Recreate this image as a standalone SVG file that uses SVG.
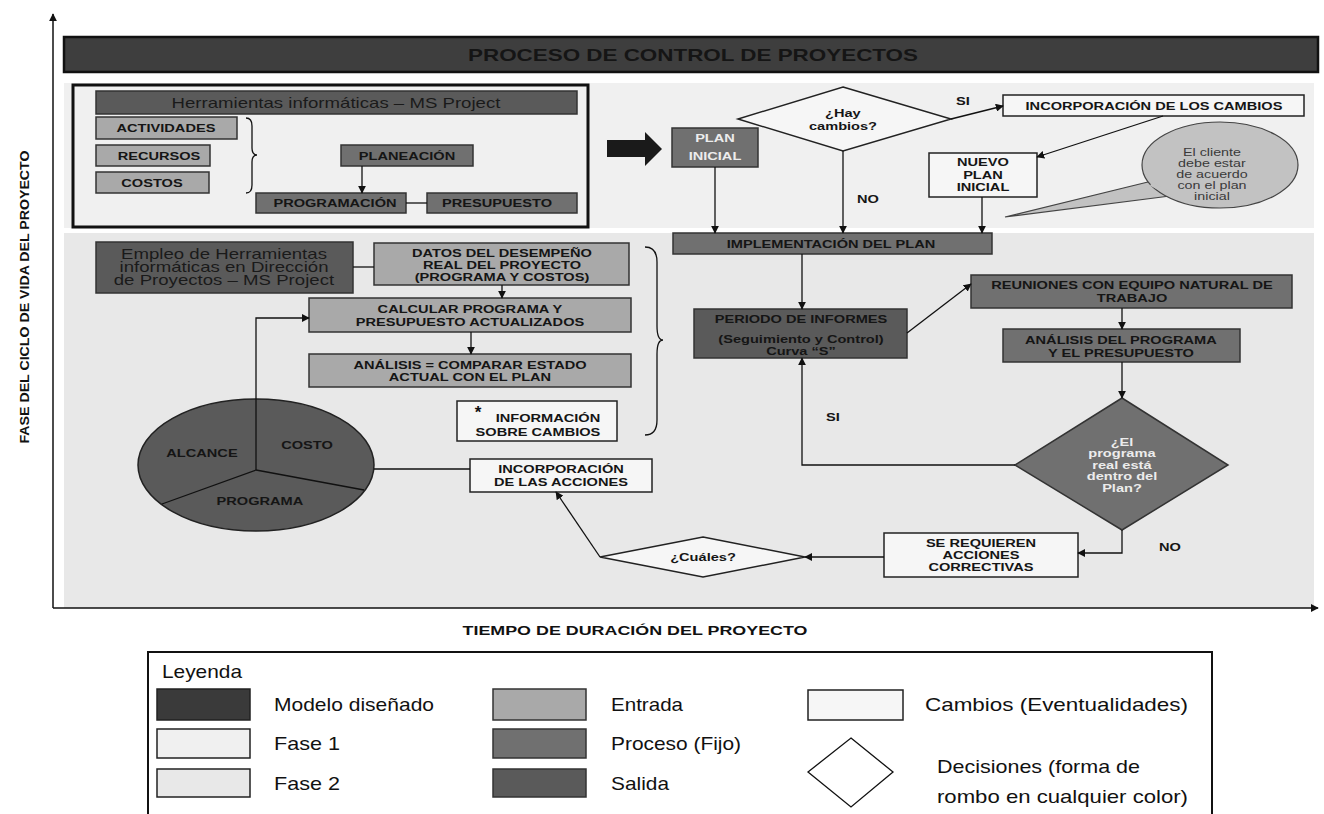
<svg xmlns="http://www.w3.org/2000/svg" width="1324" height="814" viewBox="0 0 1324 814">
<defs>
<style>
.b{font-family:"Liberation Sans",Arial,sans-serif;font-weight:bold;font-size:11.5px;fill:#151515;text-anchor:middle;transform-box:fill-box;transform-origin:center;transform:scaleX(1.27)}
.bw{font-family:"Liberation Sans",Arial,sans-serif;font-weight:bold;font-size:11.5px;fill:#ececec;text-anchor:middle;transform-box:fill-box;transform-origin:center;transform:scaleX(1.27)}
.n{font-family:"Liberation Sans",Arial,sans-serif;font-size:14px;fill:#1a1a1a;text-anchor:middle;transform-box:fill-box;transform-origin:center;transform:scaleX(1.33)}
.c{font-family:"Liberation Sans",Arial,sans-serif;font-size:11px;fill:#3a3a3a;text-anchor:middle;transform-box:fill-box;transform-origin:center;transform:scaleX(1.3)}
.lg{font-family:"Liberation Sans",Arial,sans-serif;font-size:19px;fill:#111}
.ent{fill:#a9a9a9;stroke:#333;stroke-width:1.5}
.pro{fill:#707070;stroke:#333;stroke-width:1.5}
.sal{fill:#5a5a5a;stroke:#333;stroke-width:1.5}
.cam{fill:#f6f6f6;stroke:#222;stroke-width:1.5}
.ln{fill:none;stroke:#111;stroke-width:1.3}
</style>
<marker id="ar" viewBox="0 0 10 10" refX="9" refY="5" markerWidth="8" markerHeight="8" orient="auto" markerUnits="userSpaceOnUse"><path d="M0,0 L10,5 L0,10 z" fill="#111"/></marker>
</defs>
<rect width="1324" height="814" fill="#fff"/>

<g id="bands">
<rect x="64" y="83" width="1250" height="145" fill="#f0f0f0"/>
<rect x="64" y="233" width="1250" height="375" fill="#e8e8e8"/>
</g>

<g id="axes">
<line x1="53" y1="608" x2="53" y2="14" stroke="#111" stroke-width="1.5" marker-end="url(#ar)"/>
<line x1="53" y1="608" x2="1318" y2="608" stroke="#111" stroke-width="1.5" marker-end="url(#ar)"/>
<text transform="translate(29,297) rotate(-90)" font-family="'Liberation Sans',Arial,sans-serif" font-weight="bold" font-size="13.5" text-anchor="middle" fill="#111" textLength="293" lengthAdjust="spacingAndGlyphs">FASE DEL CICLO DE VIDA DEL PROYECTO</text>
<text x="635" y="635" font-family="'Liberation Sans',Arial,sans-serif" font-weight="bold" font-size="12" text-anchor="middle" fill="#111" textLength="345" lengthAdjust="spacingAndGlyphs">TIEMPO DE DURACIÓN  DEL PROYECTO</text>
</g>

<g id="title">
<rect x="64" y="37" width="1254" height="35" fill="#3e3e3e" stroke="#111" stroke-width="2.5"/>
<text x="693" y="61" font-family="'Liberation Sans',Arial,sans-serif" font-weight="bold" font-size="17" fill="#151515" text-anchor="middle" textLength="450" lengthAdjust="spacingAndGlyphs">PROCESO DE CONTROL DE PROYECTOS</text>
</g>

<g id="toolbox"><rect x="73" y="85" width="515" height="142" fill="none" stroke="#111" stroke-width="3"/></g>
<g id="herramientas"><rect x="96" y="91" width="481" height="23" class="sal"/><text x="336" y="108" class="n">Herramientas informáticas – MS Project</text></g>
<g id="actividades"><rect x="96" y="117" width="141" height="22" class="ent"/><text x="166" y="132" class="b">ACTIVIDADES</text></g>
<g id="recursos"><rect x="96" y="145" width="114" height="21" class="ent"/><text x="159" y="160" class="b">RECURSOS</text></g>
<g id="costos"><rect x="96" y="172" width="113" height="21" class="ent"/><text x="152" y="187" class="b">COSTOS</text></g>
<g id="brace1"><path d="M246,118 Q252,118 252,126 L252,148 Q252,155 257,155 Q252,155 252,162 L252,185 Q252,193 246,193" class="ln"/></g>
<g id="planeacion"><rect x="341" y="145" width="132" height="21" class="pro"/><text x="407" y="160" class="b">PLANEACIÓN</text></g>
<g id="programacion"><rect x="256" y="193" width="150" height="20" class="pro"/><text x="335" y="207" class="b">PROGRAMACIÓN</text></g>
<g id="presupuesto"><rect x="427" y="193" width="150" height="20" class="pro"/><text x="497" y="207" class="b">PRESUPUESTO</text></g>

<g id="bigarrow"><path d="M607,140 L645,140 L645,132 L662,149 L645,166 L645,157 L607,157 z" fill="#1a1a1a"/></g>

<g id="planinicial"><rect x="672" y="128" width="86" height="39" class="pro"/><text x="715" y="142" class="bw">PLAN</text><text x="715" y="160" class="bw">INICIAL</text></g>
<g id="haycambios"><path d="M843,87 L951,119 L843,151 L738,119 z" class="cam"/><text x="843" y="117" class="b">¿Hay</text><text x="843" y="130" class="b">cambios?</text></g>
<g id="incorpcambios"><rect x="1003" y="95" width="301" height="21" class="cam"/><text x="1154" y="110" class="b">INCORPORACIÓN  DE LOS CAMBIOS</text></g>
<g id="nuevoplan"><rect x="929" y="153" width="108" height="44" class="cam"/><text x="983" y="166" class="b">NUEVO</text><text x="983" y="179" class="b">PLAN</text><text x="983" y="191" class="b">INICIAL</text></g>
<g id="callout">
<path d="M1152,181 L1005,217 L1170,196" fill="#c2c2c2" stroke="#444" stroke-width="1.2"/>
<ellipse cx="1220" cy="165" rx="78" ry="43" fill="#c2c2c2" stroke="#444" stroke-width="1.2"/>
<path d="M1151,184 L1168,193" stroke="#c2c2c2" stroke-width="4"/>
<text x="1212" y="156" class="c">El cliente</text><text x="1212" y="167" class="c">debe estar</text><text x="1212" y="178" class="c">de acuerdo</text><text x="1212" y="189" class="c">con el plan</text><text x="1212" y="200" class="c">inicial</text>
</g>

<g id="implementacion"><rect x="673" y="233" width="319" height="21" class="pro"/><text x="831" y="248" class="b">IMPLEMENTACIÓN  DEL PLAN</text></g>
<g id="periodo"><rect x="694" y="309" width="213" height="49" class="sal"/><text x="801" y="323" class="b">PERIODO DE INFORMES</text><text x="801" y="343" class="b">(Seguimiento y Control)</text><text x="801" y="355" class="b">Curva “S”</text></g>
<g id="reuniones"><rect x="971" y="275" width="321" height="33" class="pro"/><text x="1132" y="289" class="b">REUNIONES CON EQUIPO NATURAL DE</text><text x="1132" y="302" class="b">TRABAJO</text></g>
<g id="analisisprog"><rect x="1003" y="329" width="237" height="33" class="pro"/><text x="1121" y="344" class="b">ANÁLISIS  DEL PROGRAMA</text><text x="1121" y="357" class="b">Y EL PRESUPUESTO</text></g>
<g id="dentroplan"><path d="M1122,398 L1228,465 L1122,530 L1015,465 z" class="pro"/><text x="1122" y="446" class="bw">¿El</text><text x="1122" y="457" class="bw">programa</text><text x="1122" y="469" class="bw">real está</text><text x="1122" y="480" class="bw">dentro del</text><text x="1122" y="492" class="bw">Plan?</text></g>
<g id="serequieren"><rect x="884" y="533" width="194" height="44" class="cam"/><text x="981" y="547" class="b">SE REQUIEREN</text><text x="981" y="559" class="b">ACCIONES</text><text x="981" y="571" class="b">CORRECTIVAS</text></g>
<g id="cuales"><path d="M703,537 L805,557 L703,577 L600,557 z" class="cam"/><text x="703" y="561" class="b">¿Cuáles?</text></g>
<g id="incorpacciones"><rect x="470" y="459" width="182" height="33" class="cam"/><text x="561" y="473" class="b">INCORPORACIÓN</text><text x="561" y="486" class="b">DE LAS ACCIONES</text></g>

<g id="empleo"><rect x="96" y="242" width="257" height="51" class="sal"/><text x="224" y="259" class="n">Empleo de Herramientas</text><text x="224" y="272" class="n">informáticas en Dirección</text><text x="224" y="285" class="n">de Proyectos – MS Project</text></g>
<g id="datos"><rect x="374" y="243" width="255" height="42" class="ent"/><text x="502" y="257" class="b">DATOS DEL DESEMPEÑO</text><text x="502" y="269" class="b">REAL DEL PROYECTO</text><text x="502" y="281" class="b">(PROGRAMA Y COSTOS)</text></g>
<g id="calcular"><rect x="309" y="298" width="322" height="34" class="ent"/><text x="470" y="313" class="b">CALCULAR PROGRAMA Y</text><text x="470" y="326" class="b">PRESUPUESTO ACTUALIZADOS</text></g>
<g id="analisis"><rect x="309" y="354" width="322" height="33" class="ent"/><text x="470" y="369" class="b">ANÁLISIS  = COMPARAR ESTADO</text><text x="470" y="381" class="b">ACTUAL CON EL PLAN</text></g>
<g id="informacion"><rect x="457" y="401" width="160" height="40" class="cam"/><text x="478" y="418" font-family="'Liberation Sans',Arial,sans-serif" font-weight="bold" font-size="17" fill="#111" text-anchor="middle">*</text><text x="548" y="422" class="b">INFORMACIÓN</text><text x="538" y="436" class="b">SOBRE CAMBIOS</text></g>
<g id="brace2"><path d="M645,247 Q657,247 657,262 L657,326 Q657,340 663,340 Q657,340 657,354 L657,420 Q657,435 645,435" class="ln"/></g>

<g id="pie">
<ellipse cx="256" cy="465" rx="118" ry="66" fill="#5a5a5a" stroke="#222" stroke-width="1.5"/>
<path d="M256,470 L162,504 M256,470 L364,490" stroke="#111" stroke-width="1.3"/>
<text x="202" y="457" class="b">ALCANCE</text><text x="307" y="449" class="b">COSTO</text><text x="260" y="505" class="b">PROGRAMA</text>
</g>

<g id="connectors" fill="none" stroke="#111" stroke-width="1.3">
<line x1="362" y1="166" x2="362" y2="193" marker-end="url(#ar)"/>
<line x1="406" y1="203" x2="427" y2="203"/>
<line x1="951" y1="119" x2="1003" y2="106" marker-end="url(#ar)"/>
<line x1="1163" y1="116" x2="1037" y2="157" marker-end="url(#ar)"/>
<line x1="715" y1="167" x2="715" y2="233" marker-end="url(#ar)"/>
<line x1="843" y1="151" x2="843" y2="233" marker-end="url(#ar)"/>
<line x1="982" y1="197" x2="982" y2="233" marker-end="url(#ar)"/>
<line x1="802" y1="254" x2="802" y2="309" marker-end="url(#ar)"/>
<line x1="907" y1="333" x2="971" y2="284" marker-end="url(#ar)"/>
<line x1="1122" y1="308" x2="1122" y2="329" marker-end="url(#ar)"/>
<line x1="1122" y1="362" x2="1122" y2="398" marker-end="url(#ar)"/>
<polyline points="1015,465 802,465 802,358" marker-end="url(#ar)"/>
<polyline points="1122,530 1122,553 1078,553" marker-end="url(#ar)"/>
<line x1="884" y1="557" x2="805" y2="557" marker-end="url(#ar)"/>
<line x1="600" y1="557" x2="556" y2="492" marker-end="url(#ar)"/>
<line x1="374" y1="469" x2="470" y2="469"/>
<polyline points="256,470 256,318 309,318" marker-end="url(#ar)"/>
<line x1="353" y1="267" x2="374" y2="267"/>
<line x1="502" y1="285" x2="502" y2="298" marker-end="url(#ar)"/>
<line x1="471" y1="332" x2="471" y2="354" marker-end="url(#ar)"/>
</g>

<g id="labels">
<text x="963" y="105" class="b">SI</text>
<text x="868" y="203" class="b">NO</text>
<text x="833" y="421" class="b">SI</text>
<text x="1170" y="551" class="b">NO</text>
</g>

<g id="legend">
<rect x="148" y="652" width="1064" height="170" fill="#fff" stroke="#111" stroke-width="2"/>
<text x="162" y="678" class="lg" font-size="18" textLength="80" lengthAdjust="spacingAndGlyphs">Leyenda</text>
<rect x="157" y="689" width="93" height="31" fill="#3a3a3a" stroke="#222" stroke-width="1.5"/>
<text x="274" y="711" class="lg" textLength="160" lengthAdjust="spacingAndGlyphs">Modelo diseñado</text>
<rect x="157" y="729" width="93" height="29" fill="#f0f0f0" stroke="#222" stroke-width="1.5"/>
<text x="274" y="750" class="lg" textLength="66" lengthAdjust="spacingAndGlyphs">Fase 1</text>
<rect x="157" y="769" width="93" height="28" fill="#e8e8e8" stroke="#222" stroke-width="1.5"/>
<text x="274" y="790" class="lg" textLength="66" lengthAdjust="spacingAndGlyphs">Fase 2</text>
<rect x="493" y="689" width="93" height="31" class="ent"/>
<text x="611" y="711" class="lg" textLength="72" lengthAdjust="spacingAndGlyphs">Entrada</text>
<rect x="493" y="729" width="93" height="29" class="pro"/>
<text x="611" y="750" class="lg" textLength="130" lengthAdjust="spacingAndGlyphs">Proceso (Fijo)</text>
<rect x="493" y="769" width="93" height="28" class="sal"/>
<text x="611" y="790" class="lg" textLength="58" lengthAdjust="spacingAndGlyphs">Salida</text>
<rect x="808" y="690" width="95" height="30" class="cam"/>
<text x="925" y="711" class="lg" textLength="263" lengthAdjust="spacingAndGlyphs">Cambios (Eventualidades)</text>
<path d="M851,738 L893,772 L851,807 L808,772 z" fill="#fff" stroke="#111" stroke-width="1.3"/>
<text x="937" y="773" class="lg" textLength="203" lengthAdjust="spacingAndGlyphs">Decisiones (forma de</text>
<text x="937" y="803" class="lg" textLength="251" lengthAdjust="spacingAndGlyphs">rombo en cualquier color)</text>
</g>
</svg>
